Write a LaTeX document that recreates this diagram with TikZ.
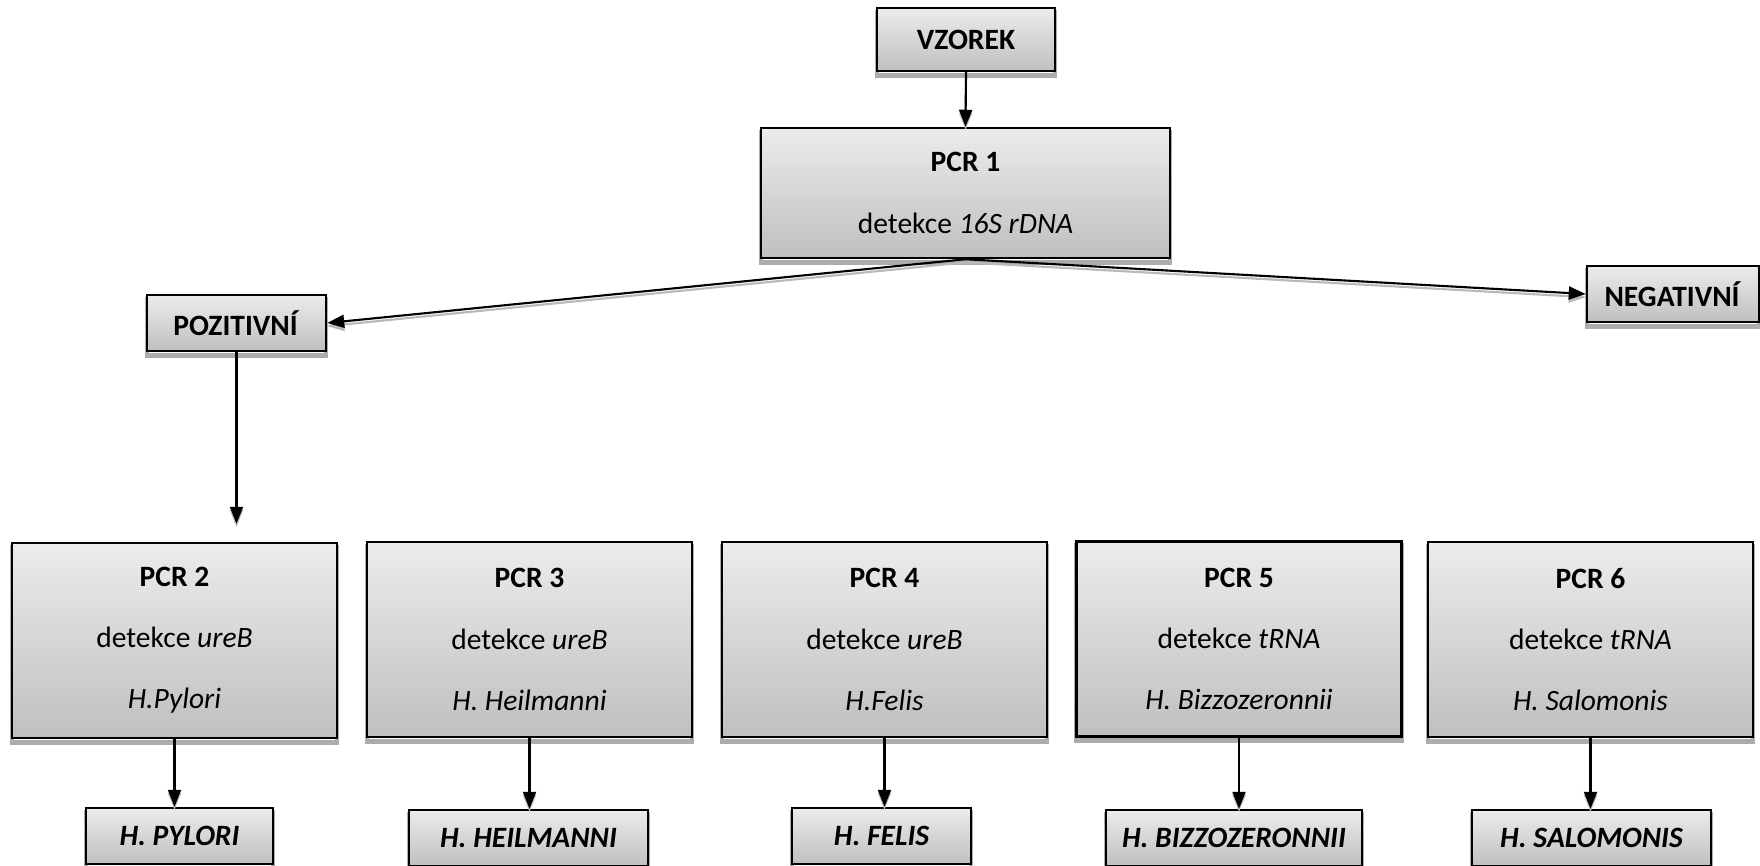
\documentclass[tikz,border=0pt]{standalone}
\usepackage{fontspec}
\setmainfont{Carlito}
\usetikzlibrary{arrows.meta, positioning}

\begin{document}
\begin{tikzpicture}[
  box/.style={draw=black, line width=0.7pt, top color=gray!15, bottom color=gray!50,
    align=center, inner sep=0pt, font=\fontsize{8.4}{17.4}\selectfont,
    preaction={draw=gray!65, line width=1.4pt, transform canvas={yshift=-1.2pt}}},
  pcrbox/.style={box, minimum width=3.25cm, minimum height=1.95cm},
  endbox/.style={box, minimum height=0.56cm, font=\fontsize{8.4}{9}\selectfont\bfseries\itshape},
  arr/.style={line width=0.6pt, -{Triangle[length=0.17cm, width=0.13cm]},
    preaction={draw=gray!55, line width=0.6pt, -{Triangle[length=0.17cm, width=0.13cm]}, transform canvas={yshift=-0.9pt}}}
]
\useasboundingbox (0,0) rectangle (17.6,8.66);
\clip (0,0) rectangle (17.6,8.66);

% top
\node[box, minimum width=1.78cm, minimum height=0.63cm] (vzorek) at (9.66,8.265) {\textbf{VZOREK}};
\node[box, minimum width=4.09cm, minimum height=1.30cm] (pcr1) at (9.655,6.73) {\textbf{PCR 1}\\detekce \textit{16S rDNA}};
\node[box, minimum width=1.79cm, minimum height=0.56cm] (pozitivni) at (2.365,5.43) {\textbf{POZITIVNÍ}};
\node[box, minimum width=1.72cm, minimum height=0.56cm] (negativni) at (16.73,5.72) {\textbf{NEGATIVNÍ}};

\draw[arr] (vzorek.south) -- (pcr1.north);
\draw[arr] (pcr1.south) -- (pozitivni.east);
\draw[arr] (pcr1.south) -- (negativni.west);

% PCR 2 - 6
\node[pcrbox] (pcr2) at (1.745,2.255) {\textbf{PCR 2}\\detekce \textit{ureB}\\\textit{H.Pylori}};
\node[pcrbox] (pcr3) at (5.295,2.265) {\textbf{PCR 3}\\detekce \textit{ureB}\\\textit{H. Heilmanni}};
\node[pcrbox] (pcr4) at (8.845,2.265) {\textbf{PCR 4}\\detekce \textit{ureB}\\\textit{H.Felis}};
\node[pcrbox] (pcr5) at (12.39,2.27) {\textbf{PCR 5}\\detekce \textit{tRNA}\\\textit{H. Bizzozeronnii}};
\node[pcrbox] (pcr6) at (15.905,2.265) {\textbf{PCR 6}\\detekce \textit{tRNA}\\\textit{H. Salomonis}};

\draw[arr, shorten >=0.18cm] (pozitivni.south) -- (pozitivni.south |- pcr2.north);

% results
\node[endbox, minimum width=1.87cm] (pylori) at (1.795,0.30) {H. PYLORI};
\node[endbox, minimum width=2.39cm] (heilmanni) at (5.285,0.28) {H. HEILMANNI};
\node[endbox, minimum width=1.79cm] (felis) at (8.815,0.30) {H. FELIS};
\node[endbox, minimum width=2.56cm] (bizzozeronnii) at (12.34,0.28) {H. BIZZOZERONNII};
\node[endbox, minimum width=2.39cm] (salomonis) at (15.915,0.28) {H. SALOMONIS};

\draw[arr] (pcr2.south) -- (pcr2.south |- pylori.north);
\draw[arr] (pcr3.south) -- (pcr3.south |- heilmanni.north);
\draw[arr] (pcr4.south) -- (pcr4.south |- felis.north);
\draw[arr] (pcr5.south) -- (pcr5.south |- bizzozeronnii.north);
\draw[arr] (pcr6.south) -- (pcr6.south |- salomonis.north);

\end{tikzpicture}
\end{document}
